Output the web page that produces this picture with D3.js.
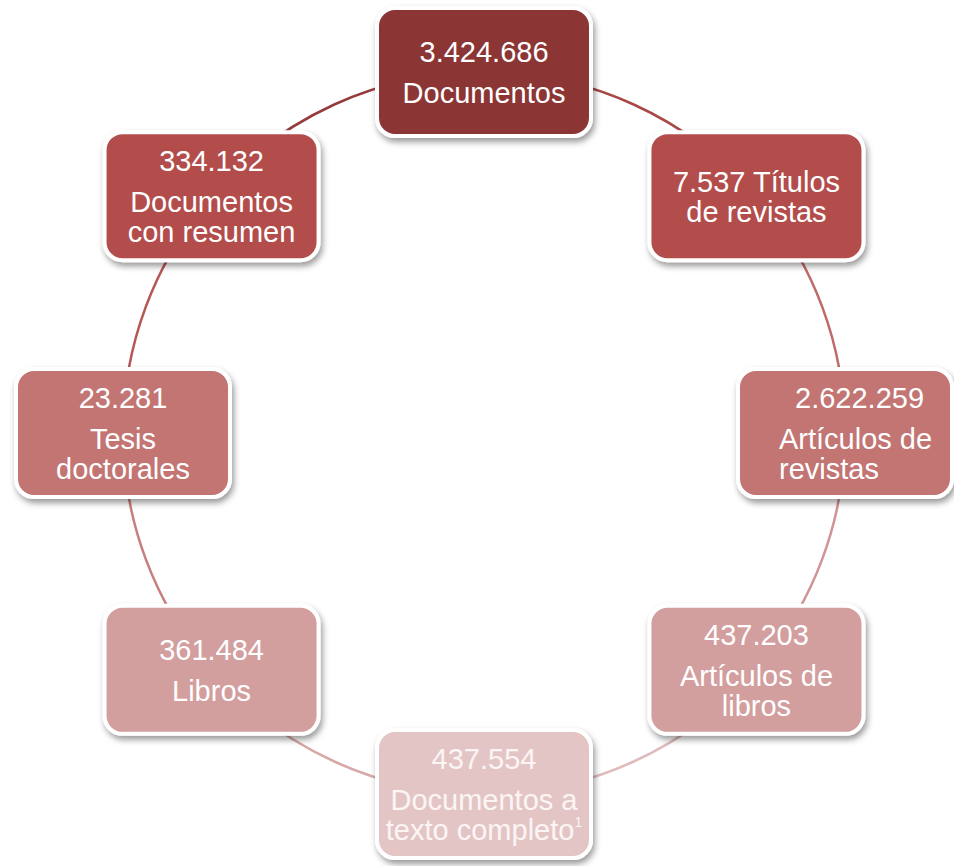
<!DOCTYPE html>
<html>
<head>
<meta charset="utf-8">
<script src="https://cdn.jsdelivr.net/npm/d3@7"></script>
<style>
  body { margin: 0; background: #fff; }
  text { font-family: "Liberation Sans", Arial, sans-serif; }
</style>
</head>
<body>
<div class="canvas"></div>
<script>
// counts shown in each box, clockwise from the top
const counts = ['3.424.686', '7.537', '2.622.259', '437.203', '437.554', '361.484', '23.281', '334.132'];

// label lines under each count
const labels = [
    ['Documentos'],
    ['Títulos', 'de revistas'],
    ['Artículos de', 'revistas'],
    ['Artículos de', 'libros'],
    ['Documentos a', 'texto completo'],
    ['Libros'],
    ['Tesis', 'doctorales'],
    ['Documentos', 'con resumen']
];

// footnote markers
const notes = ['', '', '', '', '1', '', '', ''];

// fill colours per box
const fills = ['#8b3636', '#b24d4b', '#c27573', '#d39e9e', '#e4c5c6', '#d39e9e', '#c27573', '#b24d4b'];

const width = 954;
const height = 866;
const cx = 484, cy = 433, radius = 361;
const boxW = 214, boxH = 128;

const svg = d3.select('.canvas')
    .append('svg')
        .attr('width', width)
        .attr('height', height);

// drop shadow
const defs = svg.append('defs');
defs.append('filter')
    .attr('id', 'shadow')
    .attr('x', '-20%').attr('y', '-20%')
    .attr('width', '140%').attr('height', '150%')
  .append('feDropShadow')
    .attr('dx', 2)
    .attr('dy', 4)
    .attr('stdDeviation', 3)
    .attr('flood-color', '#000')
    .attr('flood-opacity', 0.4);

// angle scale, clockwise from the top, diagonals pulled a little toward the sides
const baseAngle = d3.scaleLinear()
    .domain([0, counts.length])
    .range([0, 2 * Math.PI]);
const warp = 4 * Math.PI / 180;
const angle = i => baseAngle(i) + warp * Math.sin(2 * baseAngle(i));

const px = i => cx + radius * Math.sin(angle(i));
const py = i => cy - radius * Math.cos(angle(i));

// connecting arcs
const arcs = svg.append('g');
counts.forEach((c, i) => {
    const j = (i + 1) % counts.length;
    const p = d3.path();
    p.arc(cx, cy, radius, angle(i) - Math.PI / 2, angle(i + 1) - Math.PI / 2);
    arcs.append('path')
        .attr('d', p.toString())
        .attr('fill', 'none')
        .attr('stroke', d3.interpolateRgb(fills[i], fills[j])(0.75))
        .attr('stroke-width', 2.5);
});

// boxes
const nodes = svg.selectAll('g.node')
    .data(counts)
    .enter()
    .append('g')
        .attr('class', 'node')
        .attr('transform', (d, i) => `translate(${px(i)}, ${py(i)})`);

nodes.append('rect')
    .attr('x', -boxW / 2)
    .attr('y', -boxH / 2)
    .attr('width', boxW)
    .attr('height', boxH)
    .attr('rx', 18)
    .attr('fill', (d, i) => fills[i])
    .attr('stroke', '#fff')
    .attr('stroke-width', 4)
    .attr('filter', 'url(#shadow)');

// text
const fontSize = 29;
const lineGap = 30;
const paraGap = 41;

nodes.each(function(d, i) {
    const g = d3.select(this);
    // build lines: [text, gapBefore]
    let lines;
    if (i === 1) {
        lines = [[d + ' ' + labels[i][0], 0]].concat(labels[i].slice(1).map(l => [l, lineGap]));
    } else {
        lines = [[d, 0]].concat(labels[i].map((l, k) => [l, k === 0 ? paraGap : lineGap]));
    }
    const total = d3.sum(lines, l => l[1]);
    const cap = 21;
    let y = -(total + cap) / 2 + cap;
    const left = i === 2;
    lines.forEach((l, k) => {
        y += l[1];
        const t = g.append('text')
            .attr('x', left ? (k === 0 ? -50 : -66) : 0)
            .attr('y', y)
            .attr('text-anchor', left ? 'start' : 'middle')
            .attr('fill', i === 4 ? '#fbf5f5' : '#fff')
            .attr('font-size', fontSize)
            .text(l[0]);
        if (k === lines.length - 1 && notes[i]) {
            t.append('tspan')
                .attr('font-size', 14)
                .attr('dy', -13)
                .text(notes[i]);
        }
    });
});
</script>
</body>
</html>
